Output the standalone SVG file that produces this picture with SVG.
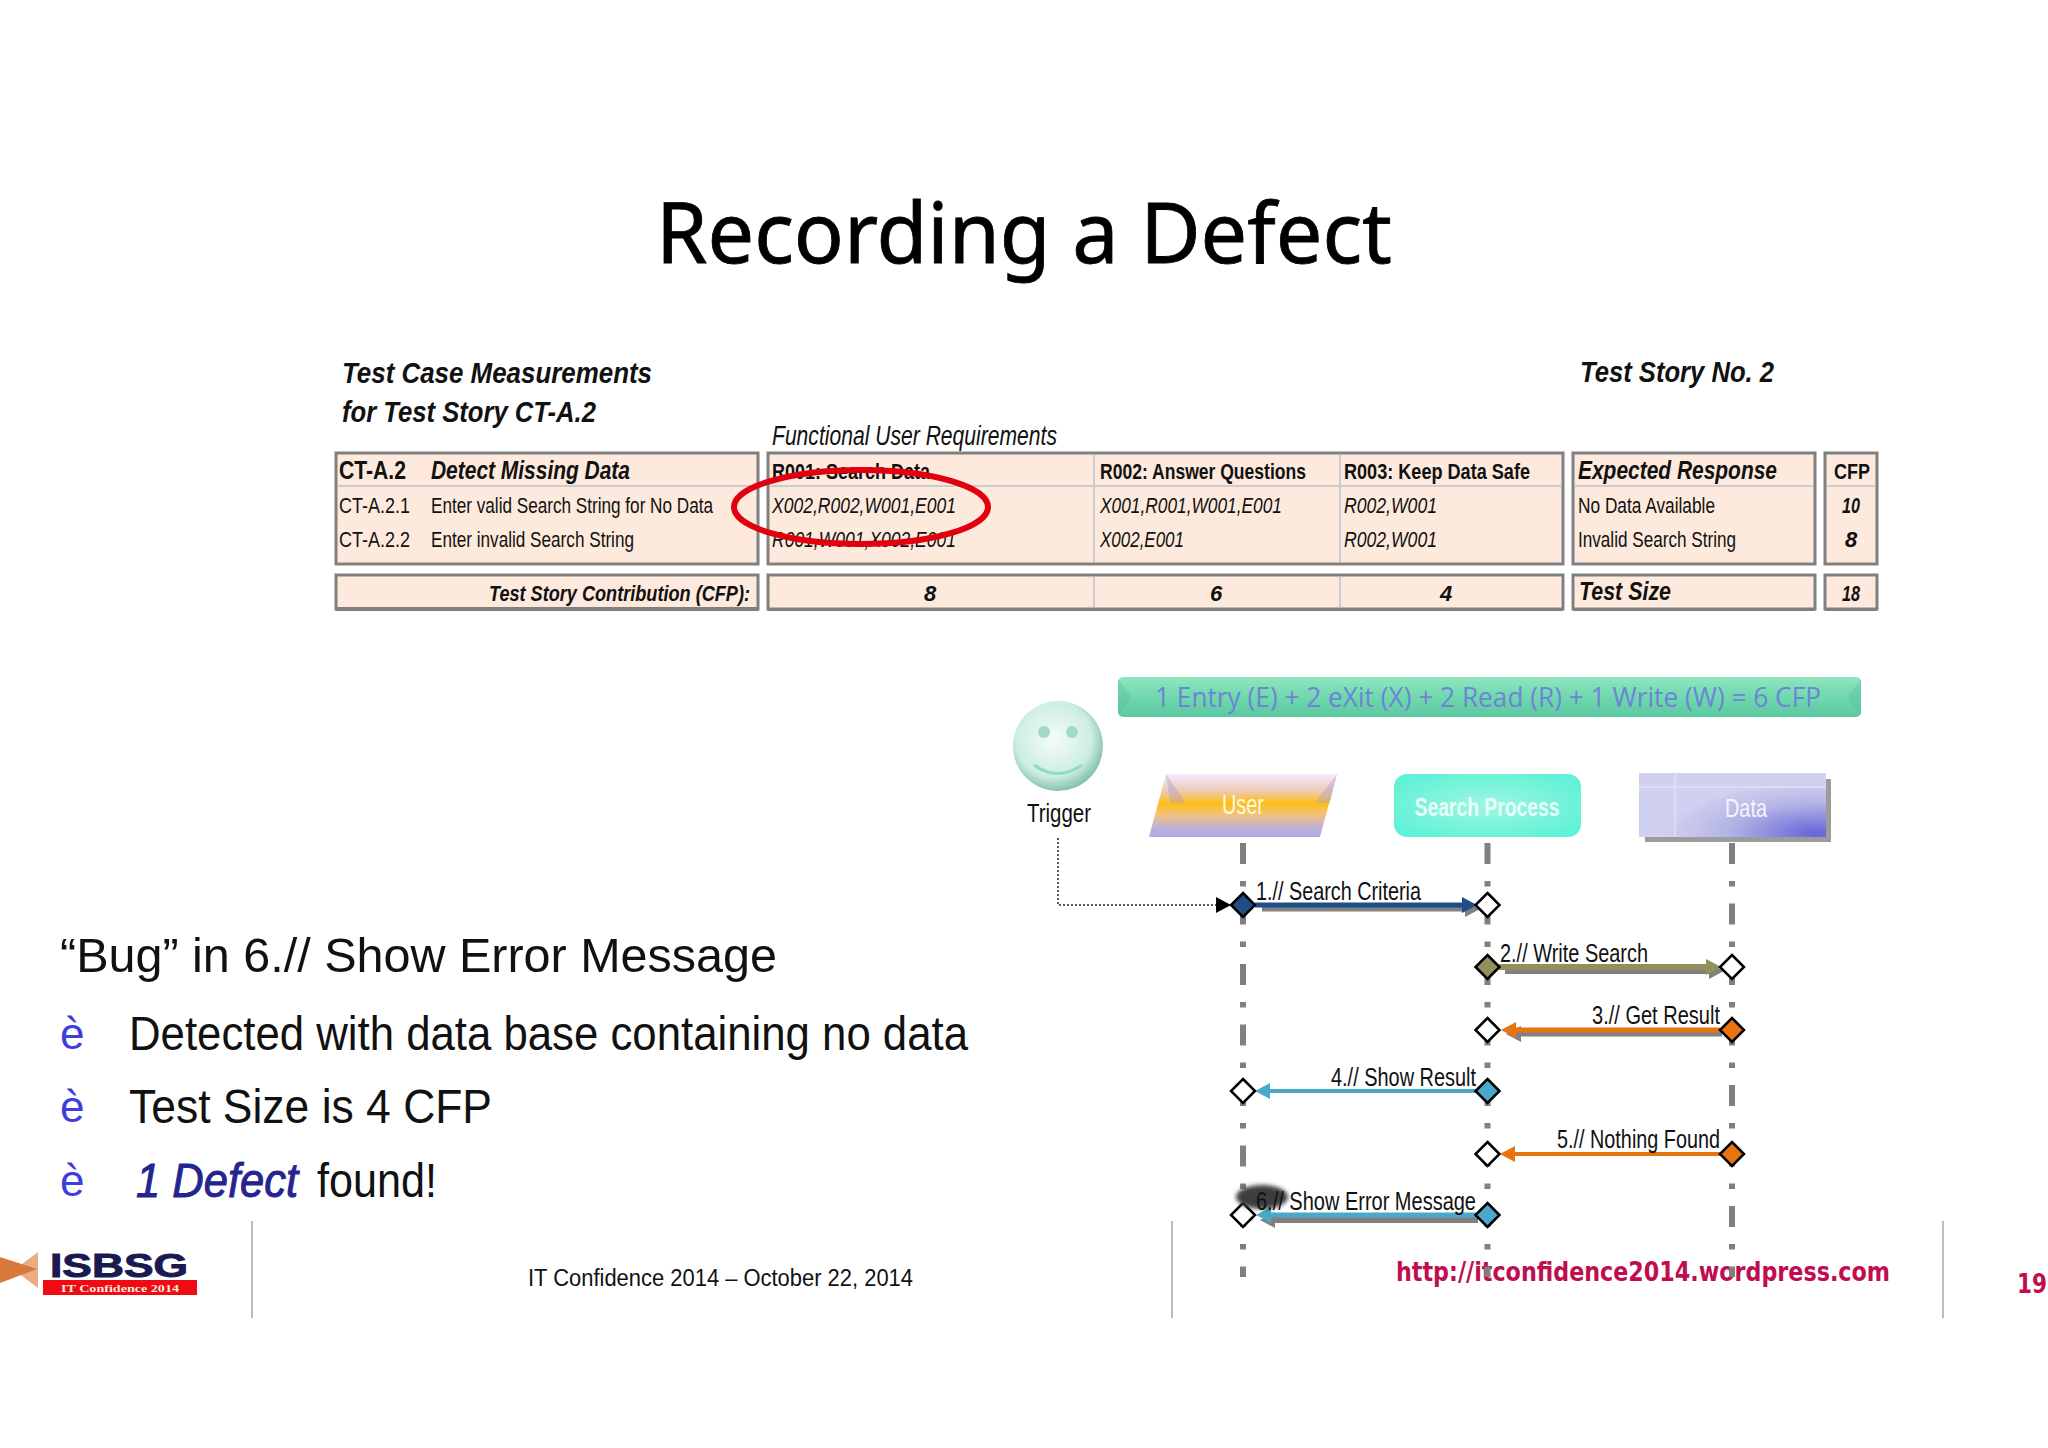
<svg xmlns="http://www.w3.org/2000/svg" width="2048" height="1448" viewBox="0 0 2048 1448">
<style>
text{font-family:"Liberation Sans",Arial,sans-serif;fill:#111}
.b{font-weight:bold}.i{font-style:italic}
.t{font-size:22px}.h{font-size:26px}.ttl{font-size:30px;font-weight:bold;font-style:italic}
.m{text-anchor:middle}
.box{fill:#fdeadd;stroke:#808080;stroke-width:3}
.in{stroke:#c9ccd2;stroke-width:2;fill:none}
.life{stroke:#808080;stroke-width:6;stroke-dasharray:21 17 5.500 17;fill:none}
.d{stroke:#000;stroke-width:2.500}
.w{fill:#fff}
.seq{font-size:25px}
.big{font-size:48px}
.blt{font-size:44px;fill:#3d3de0}
.url{font-family:"DejaVu Sans",Verdana,sans-serif;font-weight:bold;fill:#c00d50}
.sh{stroke:#808080;fill:none}
.foot{stroke:#bcbcbc;stroke-width:2}
</style>
<defs>
<marker id="mN" viewBox="0 0 15 16" refX="0" refY="8" markerWidth="15" markerHeight="16" markerUnits="userSpaceOnUse" orient="auto"><path d="M0 0L15 8L0 16z" fill="#1f4e86"/></marker>
<marker id="mO" viewBox="0 0 15 16" refX="0" refY="8" markerWidth="15" markerHeight="16" markerUnits="userSpaceOnUse" orient="auto"><path d="M0 0L15 8L0 16z" fill="#938f5c"/></marker>
<marker id="mR" viewBox="0 0 15 16" refX="0" refY="8" markerWidth="15" markerHeight="16" markerUnits="userSpaceOnUse" orient="auto"><path d="M0 0L15 8L0 16z" fill="#e8740f"/></marker>
<marker id="mT" viewBox="0 0 15 16" refX="0" refY="8" markerWidth="15" markerHeight="16" markerUnits="userSpaceOnUse" orient="auto"><path d="M0 0L15 8L0 16z" fill="#4aa9c8"/></marker>
<marker id="mG" viewBox="0 0 15 16" refX="0" refY="8" markerWidth="15" markerHeight="16" markerUnits="userSpaceOnUse" orient="auto"><path d="M0 0L15 8L0 16z" fill="#808080"/></marker>
<linearGradient id="gBan" x1="0" y1="0" x2="0" y2="1"><stop offset="0" stop-color="#8fe6bf"/><stop offset=".5" stop-color="#6fd8ae"/><stop offset="1" stop-color="#5cc9a0"/></linearGradient>
<linearGradient id="gUser" x1="0" y1="0" x2="0" y2="1"><stop offset="0" stop-color="#f6ecff"/><stop offset=".26" stop-color="#eccbb8"/><stop offset=".47" stop-color="#ffbd14"/><stop offset=".64" stop-color="#f2c27a"/><stop offset=".88" stop-color="#b9ade0"/><stop offset="1" stop-color="#b2a8e2"/></linearGradient>
<radialGradient id="gProc" cx=".5" cy=".5" r=".6"><stop offset="0" stop-color="#9ef5e2"/><stop offset="1" stop-color="#5ff2d6"/></radialGradient>
<radialGradient id="gData" cx=".95" cy=".95" r=".8"><stop offset="0" stop-color="#6464d8"/><stop offset=".6" stop-color="#b4b4e6"/><stop offset="1" stop-color="#d0d0f0"/></radialGradient>
<radialGradient id="gFace" cx=".45" cy=".42" r=".6"><stop offset="0" stop-color="#f4fbf8"/><stop offset=".7" stop-color="#cdeee2"/><stop offset="1" stop-color="#7cbcab"/></radialGradient>
<filter id="blur" x="-20%" y="-30%" width="140%" height="160%"><feGaussianBlur stdDeviation="2"/></filter>
</defs>
<rect width="2048" height="1448" fill="#fff"/>

<text id="title" x="656" y="263" font-size="84" style="font-family:'Noto Sans','Open Sans',sans-serif;fill:#000;stroke:#000;stroke-width:.8" textLength="736" lengthAdjust="spacingAndGlyphs">Recording a Defect</text>

<g id="table-heading">
<text class="ttl" x="342" y="383" textLength="310" lengthAdjust="spacingAndGlyphs">Test Case Measurements</text>
<text class="ttl" x="342" y="422" textLength="254" lengthAdjust="spacingAndGlyphs">for Test Story CT-A.2</text>
<text class="ttl" x="1580" y="382" textLength="194" lengthAdjust="spacingAndGlyphs">Test Story No. 2</text>
<text class="i" x="772" y="445" font-size="27" textLength="285" lengthAdjust="spacingAndGlyphs">Functional User Requirements</text>
</g>

<g id="test-case-box">
<rect class="box" x="336" y="453" width="422" height="111"/>
<line class="in" x1="338" y1="486" x2="756" y2="486"/>
<text class="b h" x="339" y="479" textLength="67" lengthAdjust="spacingAndGlyphs">CT-A.2</text>
<text class="b i h" x="431" y="479" textLength="199" lengthAdjust="spacingAndGlyphs">Detect Missing Data</text>
<text class="t" x="339" y="513" textLength="71" lengthAdjust="spacingAndGlyphs">CT-A.2.1</text>
<text class="t" x="431" y="513" textLength="282" lengthAdjust="spacingAndGlyphs">Enter valid Search String for No Data</text>
<text class="t" x="339" y="547" textLength="71" lengthAdjust="spacingAndGlyphs">CT-A.2.2</text>
<text class="t" x="431" y="547" textLength="203" lengthAdjust="spacingAndGlyphs">Enter invalid Search String</text>
</g>
<g id="fur-box">
<rect class="box" x="768" y="453" width="795" height="111"/>
<line class="in" x1="770" y1="486" x2="1561" y2="486"/>
<line class="in" x1="1094" y1="455" x2="1094" y2="562"/>
<line class="in" x1="1340" y1="455" x2="1340" y2="562"/>
<text class="b t" x="772" y="479" textLength="158" lengthAdjust="spacingAndGlyphs">R001: Search Data</text>
<text class="b t" x="1100" y="479" textLength="206" lengthAdjust="spacingAndGlyphs">R002: Answer Questions</text>
<text class="b t" x="1344" y="479" textLength="186" lengthAdjust="spacingAndGlyphs">R003: Keep Data Safe</text>
<text class="i t" x="772" y="513" textLength="184" lengthAdjust="spacingAndGlyphs">X002,R002,W001,E001</text>
<text class="i t" x="772" y="547" textLength="184" lengthAdjust="spacingAndGlyphs">R001,W001,X002,E001</text>
<text class="i t" x="1100" y="513" textLength="182" lengthAdjust="spacingAndGlyphs">X001,R001,W001,E001</text>
<text class="i t" x="1100" y="547" textLength="84" lengthAdjust="spacingAndGlyphs">X002,E001</text>
<text class="i t" x="1344" y="513" textLength="93" lengthAdjust="spacingAndGlyphs">R002,W001</text>
<text class="i t" x="1344" y="547" textLength="93" lengthAdjust="spacingAndGlyphs">R002,W001</text>
</g>
<g id="expected-box">
<rect class="box" x="1573" y="453" width="242" height="111"/>
<line class="in" x1="1575" y1="486" x2="1813" y2="486"/>
<text class="b i h" x="1578" y="479" textLength="199" lengthAdjust="spacingAndGlyphs">Expected Response</text>
<text class="t" x="1578" y="513" textLength="137" lengthAdjust="spacingAndGlyphs">No Data Available</text>
<text class="t" x="1578" y="547" textLength="158" lengthAdjust="spacingAndGlyphs">Invalid Search String</text>
</g>
<g id="cfp-box">
<rect class="box" x="1825" y="453" width="52" height="111"/>
<line class="in" x1="1827" y1="486" x2="1875" y2="486"/>
<text class="b t" x="1834" y="479" textLength="36" lengthAdjust="spacingAndGlyphs">CFP</text>
<text class="b i t m" x="1851" y="513" textLength="18" lengthAdjust="spacingAndGlyphs">10</text>
<text class="b i t m" x="1851" y="547">8</text>
</g>
<g id="contribution-row">
<rect class="box" x="336" y="575" width="422" height="34"/>
<path d="M336 609H758M768 609H1563M1573 609H1815M1825 609H1877" stroke="#808080" stroke-width="4" fill="none"/>
<text class="b i t" x="489" y="601" textLength="261" lengthAdjust="spacingAndGlyphs">Test Story Contribution (CFP):</text>
<rect class="box" x="768" y="575" width="795" height="34"/>
<line class="in" x1="1094" y1="577" x2="1094" y2="607"/>
<line class="in" x1="1340" y1="577" x2="1340" y2="607"/>
<text class="b i t m" x="930" y="601">8</text>
<text class="b i t m" x="1216" y="601">6</text>
<text class="b i t m" x="1446" y="601">4</text>
<rect class="box" x="1573" y="575" width="242" height="34"/>
<text class="b i h" x="1579" y="600" textLength="92" lengthAdjust="spacingAndGlyphs">Test Size</text>
<rect class="box" x="1825" y="575" width="52" height="34"/>
<text class="b i t m" x="1851" y="601" textLength="18" lengthAdjust="spacingAndGlyphs">18</text>
</g>

<ellipse id="red-circle" cx="861" cy="507" rx="127" ry="37" fill="none" stroke="#e2000f" stroke-width="6"/>

<g id="cfp-banner">
<rect x="1118" y="677" width="743" height="40" rx="5" fill="url(#gBan)"/>
<path d="M1118 679L1130 695V700L1118 715zM1861 679L1849 695V700L1861 715z" fill="#4fb892" opacity=".3"/>
<text x="1155" y="707" font-size="28" style="font-family:'Open Sans','Noto Sans',sans-serif;fill:#6f84d6" textLength="666" lengthAdjust="spacingAndGlyphs">1 Entry (E) + 2 eXit (X) + 2 Read (R) + 1 Write (W) = 6 CFP</text>
</g>

<g id="trigger">
<ellipse cx="1058" cy="746" rx="45" ry="45" fill="url(#gFace)"/>
<ellipse cx="1044" cy="732" rx="6" ry="6" fill="#a2d9c8"/>
<ellipse cx="1072" cy="732" rx="6" ry="6" fill="#a2d9c8"/>
<path d="M1034 765Q1058 782 1082 765" fill="none" stroke="#8fdcc4" stroke-width="3"/>
<text class="m" x="1059" y="822" font-size="26" textLength="64" lengthAdjust="spacingAndGlyphs">Trigger</text>
</g>

<g id="user">
<path d="M1166 774H1337L1320 837H1149z" fill="url(#gUser)"/>
<path d="M1166 774L1186 803H1170zM1337 774L1315 803H1330z" fill="#a89ad0" opacity=".4"/>
<text class="m" x="1243" y="814" font-size="27" style="fill:#fff8e0" textLength="42" lengthAdjust="spacingAndGlyphs">User</text>
</g>
<g id="search-process">
<rect x="1394" y="774" width="187" height="63" rx="13" fill="url(#gProc)"/>
<text class="m b" x="1487" y="816" font-size="26" style="fill:#e8fff8" textLength="145" lengthAdjust="spacingAndGlyphs">Search Process</text>
</g>
<g id="data">
<rect x="1645" y="779" width="186" height="63" fill="#9c9c9c"/>
<rect x="1639" y="773" width="187" height="64" fill="url(#gData)"/>
<path d="M1675 773V837M1639 787H1826" stroke="#e0e0f2" stroke-width="1.500" fill="none"/>
<text class="m" x="1746" y="817" font-size="26" style="fill:#f4f4ff" textLength="42" lengthAdjust="spacingAndGlyphs">Data</text>
</g>

<g id="left-text">
<text class="big" x="60" y="972" textLength="717" lengthAdjust="spacingAndGlyphs">“Bug” in 6.// Show Error Message</text>
<text class="blt" x="60" y="1049">è</text>
<text class="big" x="129" y="1050" textLength="839" lengthAdjust="spacingAndGlyphs">Detected with data base containing no data</text>
<text class="blt" x="60" y="1122">è</text>
<text class="big" x="129" y="1123" textLength="363" lengthAdjust="spacingAndGlyphs">Test Size is 4 CFP</text>
<text class="blt" x="60" y="1196">è</text>
<text class="big i" x="136" y="1197" style="fill:#25258f;stroke:#25258f;stroke-width:1" textLength="162" lengthAdjust="spacingAndGlyphs">1 Defect</text>
<text class="big" x="317" y="1197" textLength="120" lengthAdjust="spacingAndGlyphs">found!</text>
</g>

<g id="footer">
<line class="foot" x1="252" y1="1221" x2="252" y2="1318"/>
<line class="foot" x1="1172" y1="1221" x2="1172" y2="1318"/>
<line class="foot" x1="1943" y1="1221" x2="1943" y2="1318"/>
<text x="528" y="1286" font-size="23" textLength="385" lengthAdjust="spacingAndGlyphs">IT Confidence 2014 – October 22, 2014</text>
<text class="url" x="1396" y="1281" font-size="26" textLength="494" lengthAdjust="spacingAndGlyphs">http://itconfidence2014.wordpress.com</text>
<text class="url" x="2017" y="1293" font-size="27" textLength="30" lengthAdjust="spacingAndGlyphs">19</text>
</g>

<g id="logo">
<path d="M38 1252V1288L14 1270z" fill="#e9ae80"/>
<path d="M0 1257L37 1269L0 1283z" fill="#d9783c"/>
<text x="50" y="1277" font-size="34" class="b" style="fill:#1a1a52;stroke:#1a1a52;stroke-width:1" textLength="138" lengthAdjust="spacingAndGlyphs">ISBSG</text>
<rect x="43" y="1280" width="154" height="15" fill="#ee0b14"/>
<text x="61" y="1292" font-size="11" class="b" style="font-family:'Liberation Serif',serif;fill:#ffe8d8" textLength="118" lengthAdjust="spacingAndGlyphs">IT Confidence 2014</text>
</g>

<g id="connectors">
<path class="life" d="M1243 843V1277"/>
<path class="life" d="M1487.500 843V1277"/>
<path class="life" d="M1732 843V1277"/>
<path d="M1058 838V905H1216" fill="none" stroke="#222" stroke-width="1.500" stroke-dasharray="2 2"/>
<path d="M1216 897L1231 905L1216 913z" fill="#000"/>

<line class="sh" x1="1262" y1="909" x2="1465" y2="909" stroke-width="5" marker-end="url(#mG)"/>
<line x1="1255" y1="905" x2="1462" y2="905" stroke="#1f4e86" stroke-width="5" marker-end="url(#mN)"/>

<line class="sh" x1="1505" y1="971" x2="1709" y2="971" stroke-width="6" marker-end="url(#mG)"/>
<line x1="1499" y1="967" x2="1706" y2="967" stroke="#938f5c" stroke-width="6" marker-end="url(#mO)"/>

<line class="sh" x1="1722" y1="1034" x2="1521" y2="1034" stroke-width="5" marker-end="url(#mG)"/>
<line x1="1720" y1="1030" x2="1516" y2="1030" stroke="#e8740f" stroke-width="5" marker-end="url(#mR)"/>

<line x1="1476" y1="1091" x2="1270" y2="1091" stroke="#4aa9c8" stroke-width="4" marker-end="url(#mT)"/>

<line x1="1720" y1="1154" x2="1515" y2="1154" stroke="#e8740f" stroke-width="4" marker-end="url(#mR)"/>

<line class="sh" x1="1478" y1="1220" x2="1275" y2="1220" stroke-width="6" marker-end="url(#mG)"/>
<line x1="1476" y1="1215" x2="1271" y2="1215" stroke="#4aa9c8" stroke-width="5" marker-end="url(#mT)"/>
</g>

<g id="diamonds">
<path class="d" fill="#1f4e86" d="M1243 893L1255 905L1243 917L1231 905z"/>
<path class="d w" d="M1487.500 893L1499.500 905L1487.500 917L1475.500 905z"/>
<path class="d" fill="#938f5c" d="M1487.500 955L1499.500 967L1487.500 979L1475.500 967z"/>
<path class="d w" d="M1732 955L1744 967L1732 979L1720 967z"/>
<path class="d w" d="M1487.500 1018L1499.500 1030L1487.500 1042L1475.500 1030z"/>
<path class="d" fill="#e8740f" d="M1732 1018L1744 1030L1732 1042L1720 1030z"/>
<path class="d w" d="M1243 1079L1255 1091L1243 1103L1231 1091z"/>
<path class="d" fill="#4aa9c8" d="M1487.500 1079L1499.500 1091L1487.500 1103L1475.500 1091z"/>
<path class="d w" d="M1487.500 1142L1499.500 1154L1487.500 1166L1475.500 1154z"/>
<path class="d" fill="#e8740f" d="M1732 1142L1744 1154L1732 1166L1720 1154z"/>
<path class="d w" d="M1243 1203L1255 1215L1243 1227L1231 1215z"/>
<path class="d" fill="#4aa9c8" d="M1487.500 1203L1499.500 1215L1487.500 1227L1475.500 1215z"/>
</g>

<ellipse id="smudge" cx="1262" cy="1197" rx="26" ry="12" fill="#3c3c3c" filter="url(#blur)"/>

<g id="message-labels">
<text class="seq" x="1256" y="900" textLength="165" lengthAdjust="spacingAndGlyphs">1.// Search Criteria</text>
<text class="seq" x="1500" y="962" textLength="148" lengthAdjust="spacingAndGlyphs">2.// Write Search</text>
<text class="seq" x="1592" y="1024" textLength="128" lengthAdjust="spacingAndGlyphs">3.// Get Result</text>
<text class="seq" x="1331" y="1086" textLength="145" lengthAdjust="spacingAndGlyphs">4.// Show Result</text>
<text class="seq" x="1557" y="1148" textLength="163" lengthAdjust="spacingAndGlyphs">5.// Nothing Found</text>
<text class="seq" x="1256" y="1210" textLength="220" lengthAdjust="spacingAndGlyphs">6.// Show Error Message</text>
</g>
</svg>
